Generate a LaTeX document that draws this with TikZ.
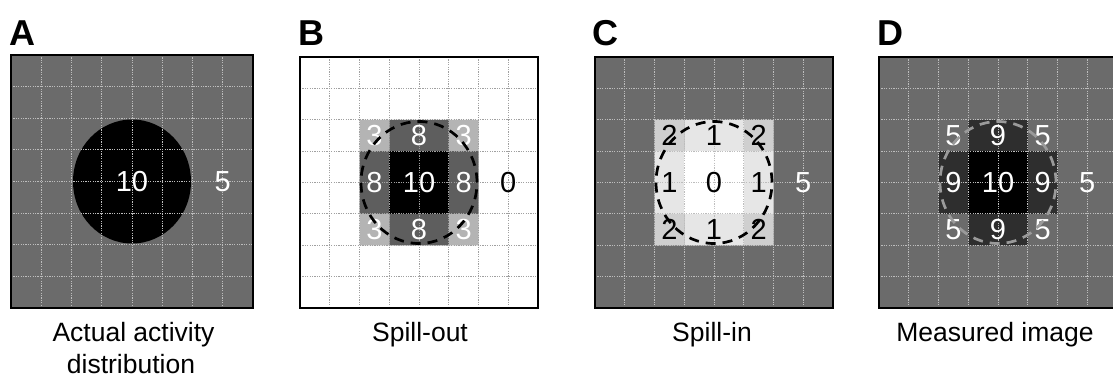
\documentclass[tikz,border=0pt]{standalone}
\usepackage{fontspec}
\setmainfont{Liberation Sans}
\definecolor{bg}{HTML}{6B6B6B}
\definecolor{gridc}{HTML}{BDBDBD}
\definecolor{gridb}{HTML}{A0A0A0}
\definecolor{beight}{HTML}{5E5E5E}
\definecolor{bthree}{HTML}{B4B4B4}
\definecolor{ctwo}{HTML}{CFCFCF}
\definecolor{cone}{HTML}{E6E6E6}
\definecolor{dnine}{HTML}{2E2E2E}
\definecolor{dcirc}{HTML}{9A9A9A}
\tikzset{
  border/.style={draw=black, line width=2.7pt},
  gridl/.style={line width=0.9pt, dash pattern=on 1.2pt off 1.2pt},
  dashcirc/.style={line width=2.7pt, dash pattern=on 10pt off 7pt},
  num/.style={font=\fontsize{29}{29}\selectfont, inner sep=0pt},
  captext/.style={font=\fontsize{26.5}{30}\selectfont, inner sep=0pt, anchor=base},
  lett/.style={font=\fontsize{36}{36}\selectfont\bfseries, inner sep=0pt, anchor=base west}
}
\newcommand\mygrid[1]{\foreach \i in {1,...,7} \draw[gridl,#1] (\i,0) -- (\i,8) (0,\i) -- (8,\i);}
\begin{document}
\begin{tikzpicture}[x=1pt,y=-1pt]
\useasboundingbox (0,0) rectangle (1113,378);
\clip (0,0) rectangle (1113,378);

% panel letters
\node[lett] (la) at (9,45) {A};
\node[lett] (lb) at (298,45) {B};
\node[lett] (lc) at (592,45) {C};
\node[lett] (ld) at (877,45) {D};

% Panel A
\begin{scope}[shift={(11,55)}, x=30.25pt, y=-31.625pt]
  \fill[bg] (0,0) rectangle (8,8);
  \fill[black] (4,4) ellipse [x radius=59pt, y radius=62pt];
  \mygrid{gridc}
  \node[num, text=white] (a10) at (4,4) {10};
  \node[num, text=white] (a5) at (7,4) {5};
  \draw[border] (0,0) rectangle (8,8);
\end{scope}

% Panel B
\begin{scope}[shift={(300,57)}, x=29.75pt, y=-31.375pt]
  \fill[white] (0,0) rectangle (8,8);
  \fill[bthree] (2,2) rectangle (3,3) (5,2) rectangle (6,3) (2,5) rectangle (3,6) (5,5) rectangle (6,6);
  \fill[beight] (3,2) rectangle (5,3) (2,3) rectangle (3,5) (5,3) rectangle (6,5) (3,5) rectangle (5,6);
  \fill[black] (3,3) rectangle (5,5);
  \mygrid{gridb}
  \node[num, text=white] (b1) at (2.5,2.5) {3};
  \node[num, text=white] (b2) at (4,2.5) {8};
  \node[num, text=white] (b3) at (5.5,2.5) {3};
  \node[num, text=white] (b4) at (2.5,4) {8};
  \node[num, text=white] (b5) at (4,4) {10};
  \node[num, text=white] (b6) at (5.5,4) {8};
  \node[num, text=white] (b7) at (2.5,5.5) {3};
  \node[num, text=white] (b8) at (4,5.5) {8};
  \node[num, text=white] (b9) at (5.5,5.5) {3};
  \node[num, text=black] (b0) at (7,4) {0};
  \draw[dashcirc, black] (4,4) ellipse [x radius=58pt, y radius=61pt];
  \draw[border] (0,0) rectangle (8,8);
\end{scope}

% Panel C
\begin{scope}[shift={(595,57)}, x=29.75pt, y=-31.375pt]
  \fill[bg] (0,0) rectangle (8,8);
  \fill[ctwo] (2,2) rectangle (3,3) (5,2) rectangle (6,3) (2,5) rectangle (3,6) (5,5) rectangle (6,6);
  \fill[cone] (3,2) rectangle (5,3) (2,3) rectangle (3,5) (5,3) rectangle (6,5) (3,5) rectangle (5,6);
  \fill[white] (3,3) rectangle (5,5);
  \mygrid{gridc}
  \node[num] (c1) at (2.5,2.5) {2};
  \node[num] (c2) at (4,2.5) {1};
  \node[num] (c3) at (5.5,2.5) {2};
  \node[num] (c4) at (2.5,4) {1};
  \node[num] (c5) at (4,4) {0};
  \node[num] (c6) at (5.5,4) {1};
  \node[num] (c7) at (2.5,5.5) {2};
  \node[num] (c8) at (4,5.5) {1};
  \node[num] (c9) at (5.5,5.5) {2};
  \node[num, text=white] (c0) at (7,4) {5};
  \draw[dashcirc, black] (4,4) ellipse [x radius=58pt, y radius=61pt];
  \draw[border] (0,0) rectangle (8,8);
\end{scope}

% Panel D
\begin{scope}[shift={(879,57)}, x=29.75pt, y=-31.375pt]
  \fill[bg] (0,0) rectangle (8,8);
  \fill[dnine] (3,2) rectangle (5,3) (2,3) rectangle (3,5) (5,3) rectangle (6,5) (3,5) rectangle (5,6);
  \fill[black] (3,3) rectangle (5,5);
  \mygrid{gridc}
  \node[num, text=white] (d1) at (2.5,2.5) {5};
  \node[num, text=white] (d2) at (4,2.5) {9};
  \node[num, text=white] (d3) at (5.5,2.5) {5};
  \node[num, text=white] (d4) at (2.5,4) {9};
  \node[num, text=white] (d5) at (4,4) {10};
  \node[num, text=white] (d6) at (5.5,4) {9};
  \node[num, text=white] (d7) at (2.5,5.5) {5};
  \node[num, text=white] (d8) at (4,5.5) {9};
  \node[num, text=white] (d9) at (5.5,5.5) {5};
  \node[num, text=white] (d0) at (7,4) {5};
  \draw[dashcirc, dcirc] (4,4) ellipse [x radius=58pt, y radius=61pt];
  \draw[border] (0,0) rectangle (8,8);
\end{scope}

% captions
\node[captext] (ca1) at (133.5,341.5) {Actual activity};
\node[captext] (ca2) at (131,373) {distribution};
\node[captext] (cb) at (420,341.5) {Spill-out};
\node[captext] (cc) at (712,341.5) {Spill-in};
\node[captext] (cd) at (995,341.5) {Measured image};
\end{tikzpicture}
\end{document}
